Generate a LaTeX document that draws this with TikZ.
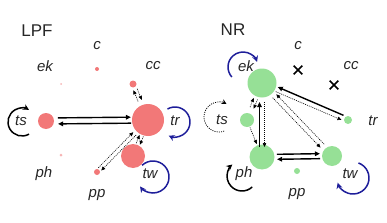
\documentclass[tikz,border=0pt]{standalone}
\usepackage{fontspec}
\setmainfont{Liberation Sans}
\usetikzlibrary{arrows.meta,calc,shapes.misc}
\definecolor{lpf}{HTML}{F27878}
\definecolor{lpflight}{HTML}{F6B4B4}
\definecolor{nrg}{HTML}{96E096}
\definecolor{arcblue}{HTML}{1E1E9A}
% style, from, to, offset, angle at from, angle at to, shorten from, shorten to
\newcommand\parline[8]{\draw[#1,shorten <=#7pt,shorten >=#8pt] ($(#2)!#4pt!#5:(#3)$) -- ($(#3)!#4pt!#6:(#2)$);}
\begin{document}
\begin{tikzpicture}[x=1pt,y=1pt,yscale=-1,
  dot/.style={circle,inner sep=0pt,outer sep=0pt},
  lab/.style={font=\fontsize{15}{15}\selectfont\itshape,inner sep=0pt,text=black!85},
  ttl/.style={font=\fontsize{17}{17}\selectfont,inner sep=0pt,text=black!85},
  thk/.style={line width=1.4pt,-{Triangle[length=5pt,width=4.5pt]}},
  dts/.style={line width=0.6pt,dash pattern=on 1pt off 1pt,-{Triangle[length=4pt,width=3.5pt]}},
  loopblk/.style={line width=1.5pt,-{Stealth[length=6pt,width=6pt]}},
  loopblu/.style={loopblk,draw=arcblue},
  loopdot/.style={line width=0.8pt,dash pattern=on 1pt off 1.2pt,-{Stealth[length=5pt,width=5pt]}},
  xm/.style={cross out,draw,line width=1.6pt,minimum size=7pt,inner sep=0pt}]
\useasboundingbox (0,0) rectangle (387,222);

% ---------- LPF ----------
\node[ttl] (Lttl) at (37,31) {LPF};
\node[lab] (Lclab) at (97,46) {c};
\node[lab] (Leklab) at (45,66) {ek};
\node[lab] (Lcclab) at (153,66) {cc};
\node[lab] (Ltslab) at (21,121) {ts};
\node[lab] (Ltrlab) at (175,121) {tr};
\node[lab] (Lphlab) at (44,174) {ph};
\node[lab] (Ltwlab) at (150,174) {tw};
\node[lab] (Lpplab) at (97,195) {pp};

\node[dot,fill=lpf,minimum size=4pt] (Lc) at (97,69) {};
\node[dot,fill=lpflight,minimum size=2pt] (Lek) at (61,84) {};
\node[dot,fill=lpf,minimum size=7pt] (Lcc) at (133,84) {};
\node[dot,fill=lpf,minimum size=16pt] (Lts) at (46,121) {};
\node[dot,fill=lpf,minimum size=32pt] (Ltr) at (148,120) {};
\node[dot,fill=lpf,minimum size=24pt] (Ltw) at (133,156) {};
\node[dot,fill=lpflight,minimum size=3pt] (Lph) at (61,155) {};
\node[dot,fill=lpf,minimum size=6pt] (Lpp) at (97,172) {};

\draw[loopblk] (22,122) ++(60:14) arc[start angle=60,end angle=300,radius=14];
\draw[loopblu] (175,122) ++(240:15) arc[start angle=240,end angle=475,radius=15];
\draw[loopblu] (153,177) ++(227:16) arc[start angle=227,end angle=504,radius=16];

\parline{thk}{Ltr}{Lts}{3}{-90}{90}{17}{12}
\parline{thk}{Lts}{Ltr}{3}{-90}{90}{12}{17}
\parline{dts}{Ltr}{Lpp}{2}{-90}{90}{19}{4}
\parline{dts}{Lpp}{Ltr}{2}{-90}{90}{4}{19}
\parline{dts}{Ltr}{Ltw}{2}{-90}{90}{17}{13}
\parline{dts}{Ltw}{Ltr}{2}{-90}{90}{13}{17}
\parline{dts}{Lcc}{Ltr}{2}{-90}{90}{6}{21}
\parline{dts}{Ltr}{Lcc}{2}{-90}{90}{21}{6}

% ---------- NR ----------
\node[ttl] (Nttl) at (233,30) {NR};
\node[lab] (Nclab) at (298,46) {c};
\node[lab] (Neklab) at (246,66) {ek};
\node[lab] (Ncclab) at (351,66) {cc};
\node[lab] (Ntslab) at (222,120) {ts};
\node[lab] (Ntrlab) at (373,121) {tr};
\node[lab] (Nphlab) at (244,174) {ph};
\node[lab] (Ntwlab) at (350,174) {tw};
\node[lab] (Npplab) at (297,194) {pp};

\node[xm] (Nc) at (298,70) {};
\node[xm] (Ncc) at (334,85) {};
\node[dot,fill=nrg,minimum size=29pt] (Nek) at (262,83) {};
\node[dot,fill=nrg,minimum size=14pt] (Nts) at (247,120) {};
\node[dot,fill=nrg,minimum size=25pt] (Nph) at (262,157) {};
\node[dot,fill=nrg,minimum size=20pt] (Ntw) at (332,156) {};
\node[dot,fill=nrg,minimum size=8pt] (Ntr) at (348,120) {};
\node[dot,fill=nrg,minimum size=6pt] (Npp) at (297,171) {};

\draw[loopblu] (243,67) ++(138:15) arc[start angle=138,end angle=340,radius=15];
\draw[loopdot] (219,117) ++(70:15) arc[start angle=70,end angle=300,radius=15];
\draw[loopblk] (242,176) ++(47:15) arc[start angle=47,end angle=230,radius=15];
\draw[loopblu] (353,178) ++(290:16) arc[start angle=290,end angle=523,radius=16];

\parline{thk}{Nph}{Nek}{2.5}{-90}{90}{10}{19}
\parline{dts}{Nek}{Nph}{2.5}{-90}{90}{19}{10}
\parline{dts}{Nts}{Nek}{2}{-90}{90}{13}{17}
\parline{dts}{Nek}{Nts}{2}{-90}{90}{17}{13}
\draw[dts,shorten <=8pt,shorten >=14pt] (Nts.center) -- (Nph.center);
\parline{thk}{Ntr}{Nek}{2.5}{90}{-90}{6}{16}
\parline{dts}{Nek}{Ntr}{2.5}{90}{-90}{16}{6}
\parline{dts}{Ntw}{Nek}{2.5}{90}{-90}{14}{18}
\parline{dts}{Nek}{Ntw}{2.5}{90}{-90}{18}{14}
\parline{thk}{Ntw}{Nph}{2.5}{-90}{90}{12}{15}
\parline{thk}{Nph}{Ntw}{2.5}{-90}{90}{15}{12}
\end{tikzpicture}
\end{document}
